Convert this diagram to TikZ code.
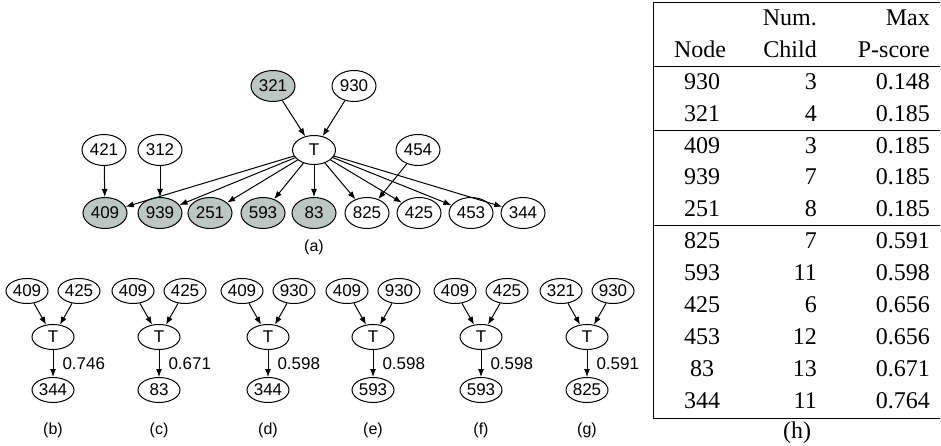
\documentclass[tikz,border=0pt]{standalone}
\usepackage{fontspec}
\setmainfont{Liberation Serif}
\setsansfont{Liberation Sans}
\usetikzlibrary{arrows.meta,positioning,shapes.geometric}
\definecolor{shade}{RGB}{188,198,194}

\begin{document}
\begin{tikzpicture}[x=1pt, y=-1pt,
    vert/.style={ellipse, draw, line width=1pt, inner sep=0pt,
                 minimum width=44pt, minimum height=31pt,
                 font=\sffamily\fontsize{17}{20}\selectfont},
    small/.style={vert, minimum width=42pt, minimum height=25pt},
    arrow/.style={-{Latex[length=8pt,width=6pt]}, line width=1pt},
    sublabel/.style={font=\sffamily\fontsize{16}{19}\selectfont},
    score/.style={font=\sffamily\fontsize{17}{20}\selectfont, inner sep=0pt},
    cell/.style={font=\fontsize{24}{28}\selectfont, anchor=base, inner sep=0pt},
    rule/.style={line width=1pt}
]
\useasboundingbox (0,0) rectangle (941,446);

% graph (a)
\node[vert, fill=shade] (n321) at (273,86) {321};
\node[vert] (n930) at (354,86) {930};
\node[vert, minimum width=43pt, minimum height=29pt] (T) at (314,150) {T};
\node[vert] (n421) at (104,150) {421};
\node[vert] (n312) at (160,150) {312};
\node[vert] (n454) at (418,150) {454};
\foreach \v/\x/\f in {409/105/shade, 939/160/shade, 251/210/shade,
                      593/263/shade, 83/314/shade, 825/367/white,
                      425/419/white, 453/471/white, 344/523/white}
    \node[vert, fill=\f] (n\v) at (\x,213) {\v};

\foreach \a/\b in {n321/T, n930/T, n421/n409, n312/n939, n454/n825,
                   T/n409, T/n939, T/n251, T/n593, T/n83,
                   T/n825, T/n425, T/n453, T/n344}
    \draw[arrow] (\a) -- (\b);
\node[sublabel] (la) at (314,247) {(a)};

% graphs (b)--(g)
\foreach \x/\l/\p/\q/\c/\s in {53/b/409/425/344/0.746, 159/c/409/425/83/0.671,
                               268/d/409/930/344/0.598, 373/e/409/930/593/0.598,
                               481/f/409/425/593/0.598, 587/g/321/930/825/0.591}{
    \node[small] (p\l) at (\x-26,291) {\p};
    \node[small] (q\l) at (\x+26,291) {\q};
    \node[small] (t\l) at (\x,337) {T};
    \node[small] (c\l) at (\x,390) {\c};
    \draw[arrow] (p\l) -- (t\l);
    \draw[arrow] (q\l) -- (t\l);
    \draw[arrow] (t\l) -- node[score, right=9pt] (s\l) {\s} (c\l);
    \node[sublabel] (l\l) at (\x,430) {(\l)};
}

% table (h)
\draw[rule] (940,3) -- (653,3) -- (653,418) -- (940,418);
\foreach \y in {67,131,226}
    \draw[rule] (653,\y) -- (940,\y);
\node[cell, anchor=base east] (hnum) at (817,25.5) {Num.};
\node[cell, anchor=base east] (hmax) at (930,25.5) {Max};
\node[cell] (hnode) at (700,57.4) {Node};
\node[cell, anchor=base east] (hchild) at (817,57.4) {Child};
\node[cell, anchor=base east] (hscore) at (930,57.4) {P-score};
\foreach \n/\c/\p [count=\i from 2] in {930/3/0.148, 321/4/0.185, 409/3/0.185,
                                        939/7/0.185, 251/8/0.185, 825/7/0.591,
                                        593/11/0.598, 425/6/0.656, 453/12/0.656,
                                        83/13/0.671, 344/11/0.764}{
    \node[cell] (r\i a) at (702,25.5+31.9*\i) {\n};
    \node[cell, anchor=base east] (r\i b) at (817,25.5+31.9*\i) {\c};
    \node[cell, anchor=base east] (r\i c) at (930,25.5+31.9*\i) {\p};
}
\node[cell] (lh) at (797,438) {(h)};
\end{tikzpicture}
\end{document}
